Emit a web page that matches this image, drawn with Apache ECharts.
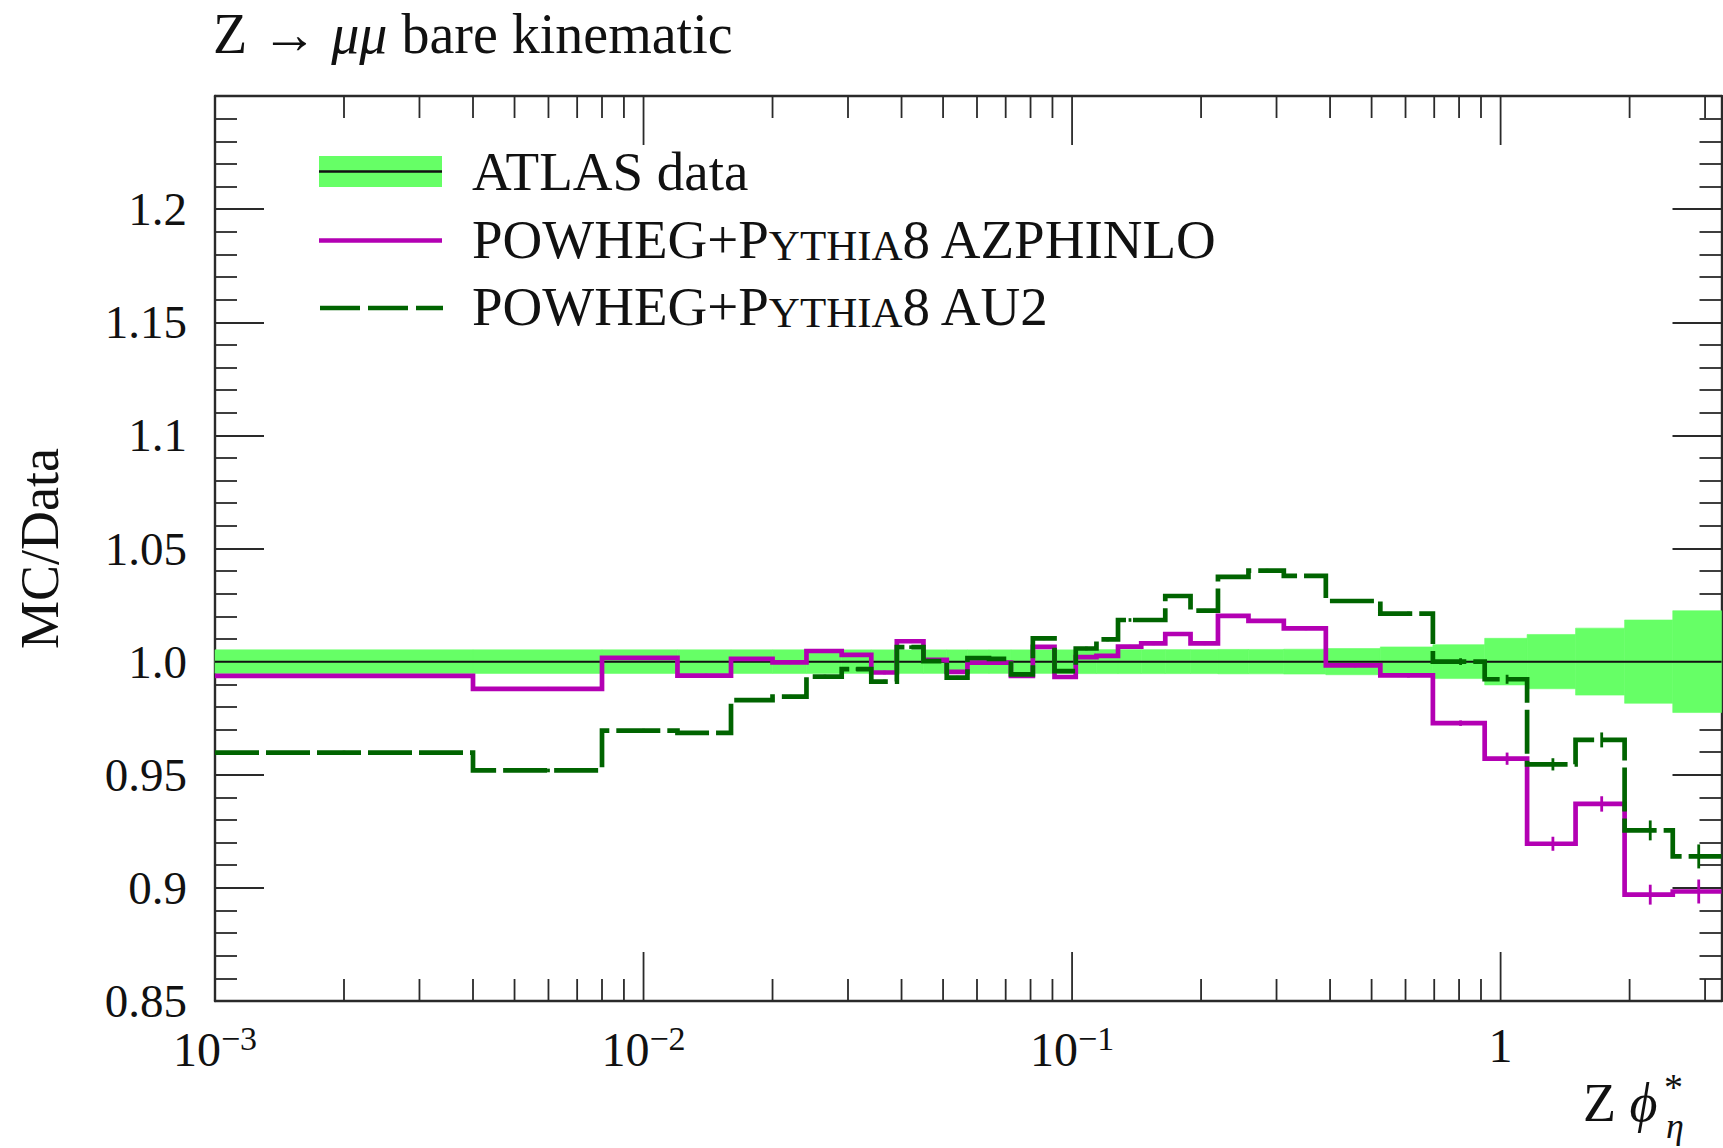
<!DOCTYPE html>
<html>
<head>
<meta charset="utf-8">
<title>Z → μμ bare kinematic — MC/Data</title>
<script src="https://cdn.jsdelivr.net/npm/echarts@6/dist/echarts.min.js"></script>
<style>
  html, body { margin: 0; padding: 0; background: #ffffff; }
  #chart { width: 1723px; height: 1148px; }
</style>
</head>
<body>
<div id="chart"></div>
<script>
// ---- phi*_eta binning (bin edges) ----
const binEdges = [0, 0.004, 0.008, 0.012, 0.016, 0.020, 0.024, 0.029, 0.034, 0.039,
  0.045, 0.051, 0.057, 0.064, 0.072, 0.081, 0.091, 0.102, 0.114, 0.128, 0.145,
  0.165, 0.189, 0.219, 0.258, 0.312, 0.391, 0.524, 0.695, 0.918, 1.153, 1.496,
  1.947, 2.522, 3.277];

// ATLAS data / data ratio and its relative uncertainty (half width of the band)
const dataRatio = [1.0, 1.0, 1.0, 1.0, 1.0, 1.0, 1.0, 1.0, 1.0, 1.0, 1.0, 1.0,
  1.0, 1.0, 1.0, 1.0, 1.0, 1.0, 1.0, 1.0, 1.0, 1.0, 1.0, 1.0, 1.0, 1.0, 1.0,
  1.0, 1.0, 1.0, 1.0, 1.0, 1.0, 1.0];
const dataUncertainty = [0.0052, 0.0052, 0.0052, 0.0052, 0.0052, 0.0052, 0.0052,
  0.0052, 0.0052, 0.0052, 0.0052, 0.0052, 0.0052, 0.0052, 0.0052, 0.0052, 0.0052,
  0.0053, 0.0053, 0.0053, 0.0053, 0.0053, 0.0053, 0.0054, 0.0054, 0.0055, 0.0058,
  0.0065, 0.0075, 0.0103, 0.0120, 0.0148, 0.0184, 0.0225];

// POWHEG+Pythia8 AZPHINLO / data
const azphinlo = [0.9937, 0.9880, 1.0017, 0.9938, 1.0012, 0.9997, 1.0047, 1.0030,
  0.9952, 1.0090, 1.0008, 0.9955, 0.9996, 0.9996, 0.9937, 1.0065, 0.9932, 1.0020,
  1.0025, 1.0066, 1.0081, 1.0122, 1.0081, 1.0202, 1.0180, 1.0147, 0.9983, 0.9939,
  0.9728, 0.9571, 0.9195, 0.9371, 0.8970, 0.8984];
const azphinloErr = [0.0008, 0.0008, 0.0008, 0.0008, 0.0008, 0.0008, 0.0008, 0.0008,
  0.0008, 0.0008, 0.0008, 0.0008, 0.0008, 0.0008, 0.0008, 0.0008, 0.0008, 0.0008,
  0.0008, 0.0008, 0.0008, 0.0008, 0.0008, 0.0008, 0.0008, 0.0008, 0.0008, 0.0009,
  0.0012, 0.0027, 0.0031, 0.0034, 0.0044, 0.0053];

// POWHEG+Pythia8 AU2 / data
const au2 = [0.9598, 0.9519, 0.9695, 0.9685, 0.9830, 0.9845, 0.9934, 0.9967,
  0.9912, 1.0064, 1.0002, 0.9929, 1.0016, 1.0012, 0.9944, 1.0103, 0.9958, 1.0058,
  1.0098, 1.0184, 1.0184, 1.0290, 1.0225, 1.0375, 1.0402, 1.0379, 1.0268, 1.0212,
  1.0000, 0.9922, 0.9546, 0.9654, 0.9254, 0.9139];
const au2Err = [0.0008, 0.0008, 0.0008, 0.0008, 0.0008, 0.0008, 0.0008, 0.0008,
  0.0008, 0.0008, 0.0008, 0.0008, 0.0008, 0.0008, 0.0008, 0.0008, 0.0008, 0.0008,
  0.0008, 0.0008, 0.0008, 0.0008, 0.0008, 0.0008, 0.0008, 0.0008, 0.0008, 0.0009,
  0.0015, 0.0020, 0.0027, 0.0033, 0.0044, 0.0053];

// ---- axis ticks and labels ----
const xMajorTicks = [0.001, 0.01, 0.1, 1];
const xMinorTicks = [0.002, 0.003, 0.004, 0.005, 0.006, 0.007, 0.008, 0.009,
  0.02, 0.03, 0.04, 0.05, 0.06, 0.07, 0.08, 0.09,
  0.2, 0.3, 0.4, 0.5, 0.6, 0.7, 0.8, 0.9, 2, 3];
const yTickLabels = ['0.85', '0.9', '0.95', '1.0', '1.05', '1.1', '1.15', '1.2'];

const X_MIN = 0.001, X_MAX = 3.277;
const Y_MIN = 0.85, Y_MAX = 1.25, Y_STEP = 0.05;

// ---- styling ----
const FONT = 'Liberation Serif';
const TEXT_COLOR = '#111111';
const AXIS_COLOR = '#2a2a2a';
const BAND_COLOR = '#66ff66';
const MAGENTA = '#b300b3';
const DARK_GREEN = '#006400';
const DASH = [44, 7];
const MAJOR_TICK = 49, MINOR_TICK = 22;

// step-line points: each bin drawn from its low edge to its high edge
function stepPoints(values) {
  const pts = values.map((v, i) => [Math.max(binEdges[i], X_MIN), v]);
  pts.push([binEdges[binEdges.length - 1], values[values.length - 1]]);
  return pts;
}
function binCentre(i) { return (binEdges[i] + binEdges[i + 1]) / 2; }
function errorBars(values, errs) {
  return values.map((v, i) => [binCentre(i), v - errs[i], v + errs[i]]);
}

const bandData = dataRatio.map((v, i) => [
  Math.max(binEdges[i], X_MIN), binEdges[i + 1], v - dataUncertainty[i], v + dataUncertainty[i]
]);

const xTickData = xMajorTicks.map(v => [v, Y_MIN, 1])
  .concat(xMinorTicks.map(v => [v, Y_MIN, 0]));

function renderBand(params, api) {
  const p1 = api.coord([api.value(0), api.value(3)]);
  const p2 = api.coord([api.value(1), api.value(2)]);
  return {
    type: 'rect',
    shape: { x: p1[0], y: p1[1], width: p2[0] - p1[0], height: p2[1] - p1[1] },
    style: { fill: BAND_COLOR, stroke: BAND_COLOR, lineWidth: 0.6 }
  };
}

function makeErrorRenderer(color) {
  return function (params, api) {
    const a = api.coord([api.value(0), api.value(1)]);
    const b = api.coord([api.value(0), api.value(2)]);
    return {
      type: 'line',
      shape: { x1: a[0], y1: a[1], x2: b[0], y2: b[1] },
      style: { stroke: color, lineWidth: 2.8 }
    };
  };
}

function renderXTick(params, api) {
  const v = api.value(0);
  const len = api.value(2) ? MAJOR_TICK : MINOR_TICK;
  const b = api.coord([v, Y_MIN]);
  const t = api.coord([v, Y_MAX]);
  const st = { stroke: AXIS_COLOR, lineWidth: 1.8 };
  return {
    type: 'group',
    children: [
      { type: 'line', shape: { x1: b[0], y1: b[1], x2: b[0], y2: b[1] - len }, style: st },
      { type: 'line', shape: { x1: t[0], y1: t[1], x2: t[0], y2: t[1] + len }, style: st }
    ]
  };
}

function xLabel(value) {
  const lg = Math.log10(value);
  const n = Math.round(lg);
  if (Math.abs(lg - n) > 0.01) return '';
  if (n === 0) return '{b|1}';
  return '{b|10}{s|' + (n < 0 ? '\u2212' : '') + Math.abs(n) + '}';
}
function yLabel(value) {
  const idx = Math.round((value - Y_MIN) / Y_STEP);
  return yTickLabels[idx] !== undefined ? yTickLabels[idx] : '';
}

const chart = echarts.init(document.getElementById('chart'), null, { renderer: 'svg' });

const frameLine = { show: true, lineStyle: { color: AXIS_COLOR, width: 2.4 } };

const option = {
  animation: false,
  backgroundColor: '#ffffff',
  title: {
    text: '{n|Z \u2192 }{i|\u03bc\u03bc}{n| bare kinematic}',
    left: 213,
    top: 6,
    padding: 0,
    textStyle: {
      fontWeight: 'normal',
      rich: {
        n: { fontFamily: FONT, fontSize: 56, fontWeight: 'normal', color: TEXT_COLOR },
        i: { fontFamily: FONT, fontSize: 56, fontWeight: 'normal', fontStyle: 'italic', color: TEXT_COLOR }
      }
    }
  },
  grid: {
    left: 215, right: 1.5, top: 96, bottom: 147,
    outerBoundsMode: 'none'
  },
  xAxis: [
    {
      type: 'log', logBase: 10, min: X_MIN, max: X_MAX, position: 'bottom',
      axisLine: frameLine,
      axisTick: { show: false },
      splitLine: { show: false },
      axisLabel: {
        show: true, margin: 20, showMaxLabel: false,
        formatter: xLabel,
        rich: {
          b: { fontFamily: FONT, fontSize: 48, color: TEXT_COLOR, verticalAlign: 'bottom' },
          s: { fontFamily: FONT, fontSize: 34, color: TEXT_COLOR, verticalAlign: 'bottom', padding: [0, 0, 18, 0] }
        }
      }
    },
    {
      type: 'log', logBase: 10, min: X_MIN, max: X_MAX, position: 'top',
      axisLine: frameLine,
      axisTick: { show: false },
      axisLabel: { show: false },
      splitLine: { show: false }
    }
  ],
  yAxis: [
    {
      type: 'value', min: Y_MIN, max: Y_MAX, interval: Y_STEP, position: 'left',
      name: 'MC/Data', nameLocation: 'middle', nameGap: 148, nameRotate: 90,
      nameTextStyle: { fontFamily: FONT, fontSize: 54, color: TEXT_COLOR },
      axisLine: frameLine,
      axisTick: { show: true, inside: true, length: MAJOR_TICK, lineStyle: { color: AXIS_COLOR, width: 1.8 } },
      minorTick: { show: true, splitNumber: 5, length: MINOR_TICK, lineStyle: { color: AXIS_COLOR, width: 1.8 } },
      splitLine: { show: false },
      axisLabel: {
        show: true, margin: 28, formatter: yLabel,
        fontFamily: FONT, fontSize: 47, color: TEXT_COLOR
      }
    },
    {
      type: 'value', min: Y_MIN, max: Y_MAX, interval: Y_STEP, position: 'right',
      axisLine: frameLine,
      axisTick: { show: true, inside: true, length: MAJOR_TICK, lineStyle: { color: AXIS_COLOR, width: 1.8 } },
      minorTick: { show: true, splitNumber: 5, length: MINOR_TICK, lineStyle: { color: AXIS_COLOR, width: 1.8 } },
      splitLine: { show: false },
      axisLabel: { show: false }
    }
  ],
  series: [
    {
      name: 'ATLAS data uncertainty',
      type: 'custom',
      xAxisIndex: 0, yAxisIndex: 0,
      renderItem: renderBand,
      encode: { x: [0, 1], y: [2, 3] },
      data: bandData,
      z: 1, silent: true
    },
    {
      name: 'ATLAS data',
      type: 'line', step: 'end', symbol: 'none',
      xAxisIndex: 0, yAxisIndex: 0,
      data: stepPoints(dataRatio),
      lineStyle: { color: '#111111', width: 2 },
      z: 2, silent: true
    },
    {
      name: 'POWHEG+Pythia8 AZPHINLO',
      type: 'line', step: 'end', symbol: 'none',
      xAxisIndex: 0, yAxisIndex: 0,
      data: stepPoints(azphinlo),
      lineStyle: { color: MAGENTA, width: 4.7, join: 'miter', cap: 'butt' },
      z: 3, silent: true
    },
    {
      name: 'AZPHINLO errors',
      type: 'custom',
      xAxisIndex: 0, yAxisIndex: 0,
      renderItem: makeErrorRenderer(MAGENTA),
      encode: { x: 0, y: [1, 2] },
      data: errorBars(azphinlo, azphinloErr),
      z: 3, silent: true
    },
    {
      name: 'POWHEG+Pythia8 AU2',
      type: 'line', step: 'end', symbol: 'none',
      xAxisIndex: 0, yAxisIndex: 0,
      data: stepPoints(au2),
      lineStyle: { color: DARK_GREEN, width: 4.7, type: DASH, join: 'miter', cap: 'butt' },
      z: 4, silent: true
    },
    {
      name: 'AU2 errors',
      type: 'custom',
      xAxisIndex: 0, yAxisIndex: 0,
      renderItem: makeErrorRenderer(DARK_GREEN),
      encode: { x: 0, y: [1, 2] },
      data: errorBars(au2, au2Err),
      z: 4, silent: true
    },
    {
      name: 'x ticks',
      type: 'custom',
      xAxisIndex: 0, yAxisIndex: 0,
      renderItem: renderXTick,
      encode: { x: 0, y: 1 },
      data: xTickData,
      z: 6, silent: true
    }
  ],
  graphic: [
    // legend
    { type: 'rect', shape: { x: 319, y: 156, width: 123, height: 31 }, style: { fill: BAND_COLOR } },
    { type: 'line', shape: { x1: 319, y1: 171.5, x2: 442, y2: 171.5 }, style: { stroke: '#111111', lineWidth: 2.4 } },
    { type: 'line', shape: { x1: 319, y1: 240.5, x2: 442, y2: 240.5 }, style: { stroke: MAGENTA, lineWidth: 4.7 } },
    { type: 'line', shape: { x1: 320, y1: 308, x2: 443, y2: 308 }, style: { stroke: DARK_GREEN, lineWidth: 4.7, lineDash: [40, 8] } },
    {
      type: 'text', x: 472, y: 171,
      style: { text: 'ATLAS data', fontFamily: FONT, fontSize: 55, fill: TEXT_COLOR, verticalAlign: 'middle' }
    },
    {
      type: 'text', x: 472, y: 239,
      style: {
        text: '{n|POWHEG+P}{c|YTHIA}{n|8 AZPHINLO}',
        verticalAlign: 'middle',
        rich: {
          n: { fontFamily: FONT, fontSize: 55, fill: TEXT_COLOR, verticalAlign: 'bottom' },
          c: { fontFamily: FONT, fontSize: 43, fill: TEXT_COLOR, verticalAlign: 'bottom' }
        }
      }
    },
    {
      type: 'text', x: 472, y: 306,
      style: {
        text: '{n|POWHEG+P}{c|YTHIA}{n|8 AU2}',
        verticalAlign: 'middle',
        rich: {
          n: { fontFamily: FONT, fontSize: 55, fill: TEXT_COLOR, verticalAlign: 'bottom' },
          c: { fontFamily: FONT, fontSize: 43, fill: TEXT_COLOR, verticalAlign: 'bottom' }
        }
      }
    },
    // x-axis title: Z phi, with the star above and the eta subscript below
    {
      type: 'text', x: 1583, y: 1146,
      style: {
        text: '{n|Z }{i|\u03d5}',
        align: 'left', verticalAlign: 'bottom',
        rich: {
          n: { fontFamily: FONT, fontSize: 54, fill: TEXT_COLOR, verticalAlign: 'bottom', padding: [0, 0, 16, 0] },
          i: { fontFamily: FONT, fontSize: 54, fontStyle: 'italic', fill: TEXT_COLOR, verticalAlign: 'bottom', padding: [0, 0, 16, 0] }
        }
      }
    },
    {
      type: 'text', x: 1664, y: 1068,
      style: {
        text: '*', fontFamily: FONT, fontSize: 38,
        fill: TEXT_COLOR, align: 'left', verticalAlign: 'top'
      }
    },
    {
      type: 'text', x: 1666, y: 1144,
      style: {
        text: '\u03b7', fontFamily: FONT, fontSize: 36, fontStyle: 'italic',
        fill: TEXT_COLOR, align: 'left', verticalAlign: 'bottom'
      }
    }
  ]
};

chart.setOption(option);
</script>
</body>
</html>
